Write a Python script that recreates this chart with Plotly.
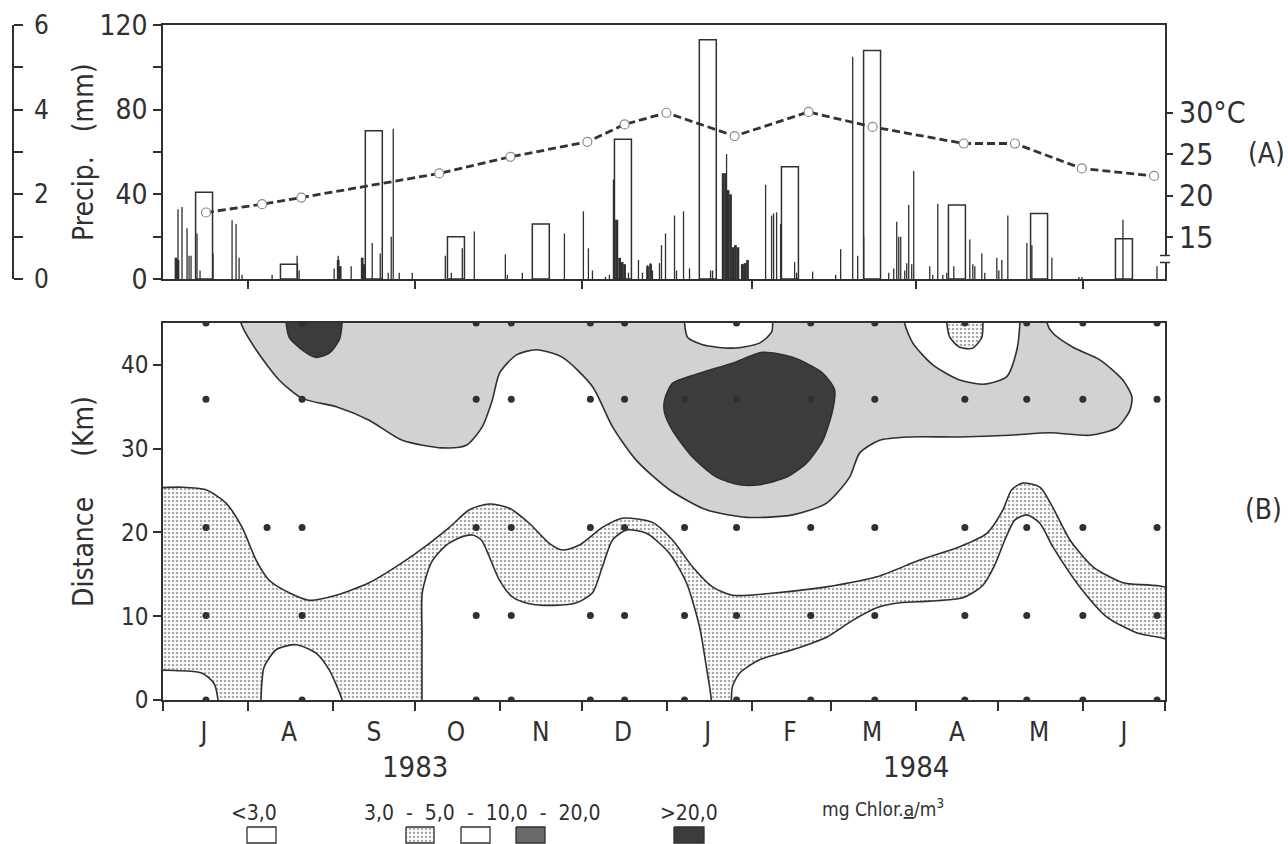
import plotly.graph_objects as go
import pandas as pd

W, H = 1288, 844
START = pd.Timestamp("1983-07-01")
DAY_MS = 86400000

# ---------------- (A) precipitation & temperature ----------------
month_mid = ["1983-07-16", "1983-08-16", "1983-09-16", "1983-10-16", "1983-11-16", "1983-12-16",
             "1984-01-16", "1984-02-15", "1984-03-16", "1984-04-16", "1984-05-16", "1984-06-16"]
month_letters = ["J", "A", "S", "O", "N", "D", "J", "F", "M", "A", "M", "J"]
monthly_precip_mm = [41, 7, 70, 20, 26, 66, 113, 53, 108, 35, 31, 19]

# daily rain events: day number since 1 July 1983, mm
rain_day = [4.75, 5.48, 6.95, 8.78, 9.51, 10.24, 12.43, 13.53, 18.28, 25.23, 26.69, 27.79, 28.88,
            39.85, 48.99, 49.73, 62.52,
            63.99, 64.72, 68.74, 72.76, 73.49, 76.42, 79.34, 82.27, 83.36, 84.10, 86.29, 91.04,
            103.11, 105.30, 109.32, 113.71,
            125.05, 125.78, 131.26, 146.62,
            153.56, 155.39, 156.86, 161.61, 163.07, 164.53, 170.02, 173.67, 175.14, 176.97, 178.06,
            178.79, 181.35, 182.08, 183.55,
            186.84, 187.57, 190.13, 192.32, 200.00, 200.73, 205.85, 211.33, 220.11,
            222.30, 223.03, 224.13, 225.59, 230.71, 231.44, 237.29,
            245.70, 247.53, 251.92, 253.75, 255.94, 265.08, 266.91, 268.01, 268.74, 269.47, 270.93,
            271.66, 272.39, 273.49, 274.22,
            280.07, 281.17, 283.00, 284.83, 286.29, 288.85, 294.70, 295.80, 296.53, 299.09, 300.18, 304.57,
            305.30, 306.40, 308.59, 315.54, 317.37, 324.68, 334.55, 335.65,
            350.64, 363.07]
rain_mm = [10, 33, 34, 24, 11, 11, 21.5, 4, 12, 27.7, 26, 10, 2,
           2, 11, 4, 5,
           11, 6, 6, 10, 6, 17, 12, 3, 20, 71, 3, 3,
           11, 3, 14.5, 22.5,
           11.7, 2, 3, 21.5,
           32, 14.5, 4, 1, 2, 47, 3, 9, 3, 6.5, 7.5,
           4, 7.5, 16, 21.5,
           30, 4, 32, 5, 4, 4, 59, 7, 44.5,
           30, 31, 31.5, 26, 8, 3, 3.5,
           2, 14, 105, 11, 20, 3, 5, 27, 20, 20, 4,
           7.5, 35, 7, 51,
           6, 2, 35.6, 2, 3, 6, 18.7, 7, 6, 12, 3, 10,
           4, 9, 30, 17, 16, 10, 1, 1,
           28, 6]

# heavy (dense) rain spells drawn solid
heavy_day = [4.75, 5.48, 63.99, 64.72, 72.76, 73.49,
             164.9, 165.8, 166.8, 167.7, 168.6, 177.0, 178.1,
             204.6, 205.5, 206.4, 207.3, 208.2, 209.1, 210.0, 211.7, 212.6, 213.5]
heavy_mm = [10, 9, 9, 6, 10, 7,
            28, 28, 10, 8, 7, 6, 7,
            50, 50, 42, 40, 15, 16, 15, 7, 7.5, 9]

temp_day = [15.7, 36.2, 50.5, 100.9, 126.9, 155.0, 168.6, 183.9, 208.8, 235.8, 259.2, 292.5, 311.2, 335.6, 362.0]
temp_c = [18.0, 19.0, 19.8, 22.7, 24.7, 26.5, 28.6, 30.0, 27.2, 30.1, 28.3, 26.3, 26.3, 23.3, 22.4]

# ---------------- (B) chlorophyll a along the estuary ----------------
station_names = ["E1", "E2", "E3", "E4", "E5"]
station_km = [0, 10.1, 20.6, 35.9, 45]
sampling_days = {
    "E1": [15.7, 50.8, 114.4, 127.2, 156.1, 168.6, 190.5, 209.5, 236.6, 260.0, 292.9, 315.5, 336.0, 363.1],
    "E2": [15.7, 50.8, 114.4, 127.2, 156.1, 168.6, 190.5, 209.5, 236.6, 260.0, 292.9, 315.5, 336.0, 363.1],
    "E3": [15.7, 38.0, 50.8, 114.4, 127.2, 156.1, 168.6, 190.5, 209.5, 236.6, 260.0, 292.9, 315.5, 336.0, 363.1],
    "E4": [15.7, 50.8, 114.4, 127.2, 156.1, 168.6, 190.5, 209.5, 236.6, 260.0, 292.9, 315.5, 336.0, 363.1],
    "E5": [15.7, 50.8, 114.4, 127.2, 156.1, 168.6, 209.5, 236.6, 260.0, 292.9, 315.5, 336.0, 363.1],
}

# isoline outlines (day since 1 July 1983, km)
band_3_5_top = [(-3, 25.3), (6.9, 25.4), (15.7, 25.1), (23.0, 23.5), (28.9, 20.6), (34.0, 16.7), (38.8, 14.3),
                (46.1, 12.8), (53.4, 11.9), (63.3, 12.5), (75.3, 14.0), (87.4, 16.4), (97.3, 18.7), (104.6, 20.6),
                (111.9, 22.7), (119.2, 23.4), (126.5, 22.9), (133.8, 21.1), (141.1, 18.7), (145.9, 17.9),
                (152.1, 18.5), (160.5, 20.6), (167.8, 21.7), (178.8, 21.2), (186.1, 19.1), (193.4, 15.9),
                (200.7, 13.5), (208.0, 12.5), (224.1, 12.8), (242.4, 13.5), (260.7, 14.7), (276.4, 16.7),
                (291.0, 18.3), (300.9, 19.9), (306.8, 22.7), (310.0, 25.1), (314.1, 25.9), (320.3, 25.4),
                (325.0, 23.0), (331.3, 19.1), (339.7, 15.9), (350.6, 14.0), (369, 13.0), (369, -3), (-3, -3)]
low_corner = [(-3, -3), (-3, 3.3), (5.9, 3.5), (14.3, 3.2), (18.6, 2.0), (20.1, 0), (20.3, -3)]
low_aug = [(35.7, -3), (35.8, 0), (36.2, 2.4), (36.9, 3.9), (41.3, 6.0), (48.6, 6.6), (55.9, 5.6),
           (60.7, 3.6), (63.3, 1.8), (65.4, 0), (66.0, -3)]
low_oct_jan = [(94.6, -3), (94.6, 0), (94.6, 8), (94.7, 12.8), (98.0, 16.4), (103.5, 18.5), (109.3, 19.5),
               (113.0, 19.7), (116.3, 19.1), (119.2, 17.1), (122.9, 14.3), (127.6, 12.3), (133.8, 11.5),
               (143.0, 11.3), (151.0, 11.6), (156.9, 12.8), (160.5, 15.9), (164.2, 19.1), (169.3, 20.3),
               (176.6, 19.9), (185.0, 17.5), (191.2, 14.0), (196.0, 8.7), (198.5, 3.9), (200.3, 0), (200.5, -3)]
low_jan_jun = [(207.5, -3), (207.6, 0), (208.0, 1.6), (210.6, 3.2), (217.9, 4.8), (230.0, 6.0), (242.4, 7.5),
               (251.9, 9.5), (260.7, 11.0), (269.1, 11.6), (280.1, 11.8), (292.1, 12.2), (299.5, 13.7),
               (303.8, 16.1), (307.5, 19.1), (311.2, 21.5), (315.5, 22.1), (320.3, 21.1), (325.0, 18.3),
               (334.9, 13.5), (344.8, 9.9), (355.8, 8.0), (369, 6.8), (369, -3)]
zone_10_20 = [(28.5, 48), (28.5, 45), (34.0, 41.8), (42.4, 38.2), (50.8, 36.0), (63.3, 35.0), (75.3, 33.4),
              (87.4, 31.0), (102.0, 30.1), (110.8, 30.4), (116.6, 32.6), (120.3, 35.8), (122.9, 39.0),
              (129.1, 41.2), (136.4, 41.8), (145.9, 40.9), (156.9, 37.4), (164.2, 32.6), (172.9, 28.6),
              (185.0, 25.1), (198.5, 22.7), (213.2, 21.8), (230.0, 22.1), (242.4, 23.5), (250.8, 26.6),
              (254.5, 29.5), (261.8, 31.0), (272.8, 31.4), (291.0, 31.4), (309.3, 31.6), (324.0, 31.9),
              (338.6, 31.6), (348.4, 32.5), (353.2, 34.6), (353.9, 36.2), (350.6, 38.2), (342.2, 40.6),
              (332.4, 42.1), (325.0, 43.8), (322.9, 45), (322.9, 48)]
gap_jan = [(190.5, 48), (190.5, 45), (191.6, 43.3), (197.1, 42.4), (208.0, 42.0), (217.9, 42.6),
           (222.3, 43.9), (222.7, 45), (222.7, 48)]
gap_apr = [(270.9, 48), (270.9, 45), (273.9, 42.6), (281.2, 40.0), (291.0, 38.2), (300.2, 37.7),
           (308.2, 38.6), (311.9, 41.8), (313.0, 45), (313.0, 48)]
patch_apr = [(286.3, 48), (286.3, 45), (287.4, 43.3), (291.0, 42.1), (295.8, 42.0), (299.1, 43.3),
             (299.5, 45), (299.5, 48)]
peak_aug = [(45.0, 48), (45.0, 45), (46.1, 43.3), (50.8, 41.8), (55.9, 40.9), (60.7, 41.4), (64.4, 43.0),
            (65.4, 45), (65.4, 48)]
peak_jan = [(183.2, 35.8), (186.1, 37.8), (196.0, 39.0), (208.0, 40.2), (219.0, 41.5), (230.0, 40.9),
            (241.0, 39.0), (245.3, 37.0), (244.6, 34.6), (241.0, 31.0), (235.1, 28.3), (227.8, 26.6),
            (217.9, 25.7), (210.6, 25.7), (202.2, 26.6), (193.4, 29.0), (186.1, 32.2), (183.2, 34.3),
            (183.2, 35.8)]

outer_scale = [0, 6]
legend_labels = ["<3,0", "3,0  -  5,0  -  10,0  -  20,0", ">20,0"]

# ---------------- styling ----------------
FONT = "Liberation Sans Narrow, DejaVu Sans Condensed, Liberation Sans, sans-serif"
INK = "#303030"
GRAY = "#d2d2d2"
DARK = "#3c3c3c"
DOTS = dict(shape=".", size=4, solidity=0.35, fgcolor="#555555", bgcolor="white")


def T(days):
    return [START + pd.Timedelta(days=float(d)) for d in days]


fig = go.Figure()

# monthly totals (open boxes)
fig.add_trace(go.Bar(x=month_mid, y=monthly_precip_mm, width=6.2 * DAY_MS, xaxis="x", yaxis="y",
                     marker=dict(color="rgba(0,0,0,0)", line=dict(color=INK, width=1.5)), hoverinfo="skip"))
# heavy spells (solid)
fig.add_trace(go.Bar(x=T(heavy_day), y=heavy_mm, width=1.0 * DAY_MS, xaxis="x", yaxis="y",
                     marker=dict(color=INK, line=dict(width=0)), hoverinfo="skip"))
# daily rain (thin lines)
lx, ly = [], []
for t, v in zip(T(rain_day), rain_mm):
    lx += [t, t, None]
    ly += [0, v, None]
fig.add_trace(go.Scatter(x=lx, y=ly, mode="lines", xaxis="x", yaxis="y",
                         line=dict(color=INK, width=1.3), hoverinfo="skip"))
# temperature
fig.add_trace(go.Scatter(x=T(temp_day), y=temp_c, mode="lines+markers", xaxis="x", yaxis="y2",
                         line=dict(color="#333333", width=2.8, dash="8px,4px"),
                         marker=dict(symbol="circle", size=9, color="white", line=dict(color="#8a8a8a", width=1.2)),
                         hoverinfo="skip"))
# invisible carrier so that the outer left scale is drawn
fig.add_trace(go.Scatter(x=T([0, 0]), y=outer_scale, mode="markers", xaxis="x", yaxis="y3",
                         marker=dict(opacity=0), hoverinfo="skip"))


def zone(pts, fillcolor, pattern=None):
    d = [p[0] for p in pts]
    k = [p[1] for p in pts]
    kw = dict(x=T(d), y=k, mode="lines", xaxis="x2", yaxis="y4", fill="toself", fillcolor=fillcolor,
              line=dict(color=INK, width=1.6, shape="spline", smoothing=0.7), hoverinfo="skip")
    if pattern is not None:
        kw["fillpattern"] = pattern
    fig.add_trace(go.Scatter(**kw))


zone(band_3_5_top, "white", DOTS)
for pts in (low_corner, low_aug, low_oct_jan, low_jan_jun):
    zone(pts, "white")
zone(zone_10_20, GRAY)
zone(gap_jan, "white")
zone(gap_apr, "white")
zone(patch_apr, "white", DOTS)
zone(peak_aug, DARK)
zone(peak_jan, DARK)

for name, km in zip(station_names, station_km):
    dd = sampling_days[name]
    fig.add_trace(go.Scatter(x=T(dd), y=[km] * len(dd), mode="markers", xaxis="x2", yaxis="y4",
                             marker=dict(size=7, color=INK), cliponaxis=True, hoverinfo="skip"))

# legend swatches (pixel frame on an invisible helper axis)
sw = [(247, 276, "white", None), (406, 434, "white", DOTS), (461, 490, "white", None),
      (516, 545, "#6a6a6a", None), (674, 704, DARK, None)]
for x0, x1, fc, pat in sw:
    kw = dict(x=[x0, x1, x1, x0, x0], y=[827, 827, 843, 843, 827], mode="lines", fill="toself",
              fillcolor=fc, line=dict(color=INK, width=1.3), xaxis="x3", yaxis="y6", hoverinfo="skip")
    if pat is not None:
        kw["fillpattern"] = pat
    fig.add_trace(go.Scatter(**kw))

X0, X1 = 163 / W, 1165 / W
top_dom = [1 - 279 / H, 1 - 25 / H]
bot_dom = [1 - 700 / H, 1 - 323 / H]
xr = ["1983-07-01", "1984-07-01"]


def tf(size):
    return dict(family=FONT, size=size, color=INK)


base_ax = dict(showgrid=False, zeroline=False, automargin=False, linecolor=INK, linewidth=1.5,
               tickcolor=INK, tickwidth=1.5)
minor_months = dict(ticks="outside", ticklen=8, tickwidth=1.5, tickcolor=INK, dtick="M1",
                    tick0="1983-07-01", showgrid=False)

fig.update_layout(
    width=W, height=H, margin=dict(l=0, r=0, t=0, b=0),
    paper_bgcolor="white", plot_bgcolor="rgba(0,0,0,0)", showlegend=False, barmode="overlay",
    font=tf(22),
    xaxis=dict(base_ax, domain=[X0, X1], anchor="y", type="date", range=xr, showline=True, mirror=True,
               showticklabels=False, ticks="", minor=minor_months),
    yaxis=dict(base_ax, domain=top_dom, anchor="x", range=[0, 120], tickvals=[0, 40, 80, 120],
               ticks="outside", ticklen=8, showline=True, mirror=True, tickfont=tf(28),
               minor=dict(ticks="outside", ticklen=8, tickwidth=1.5, tickcolor=INK, dtick=20, showgrid=False)),
    yaxis2=dict(base_ax, overlaying="y", anchor="x", side="right", range=[10, 40.56],
                tickvals=[15, 20, 25, 30], ticktext=["15", "20", "25", "30°C"], ticks="outside", ticklen=7,
                showline=False, tickfont=tf(30)),
    yaxis3=dict(base_ax, overlaying="y", anchor="free", position=13 / W, side="right", range=outer_scale,
                tickvals=[0, 2, 4, 6], ticks="outside", ticklen=9, showline=True, tickfont=tf(26),
                ticklabelstandoff=6,
                minor=dict(ticks="outside", ticklen=9, tickwidth=1.5, tickcolor=INK, dtick=1, showgrid=False)),
    xaxis2=dict(base_ax, domain=[X0, X1], anchor="y4", type="date", range=xr, showline=True, mirror=True,
                tickmode="array", tickvals=month_mid, ticktext=month_letters, ticks="outside", ticklen=8,
                tickcolor="rgba(0,0,0,0)", tickfont=tf(26), minor=dict(minor_months, ticklen=9)),
    yaxis4=dict(base_ax, domain=bot_dom, anchor="x2", range=[0, 45], tickvals=[0, 10, 20, 30, 40],
                ticks="outside", ticklen=8, showline=True, mirror=True, tickfont=tf(24)),
    yaxis5=dict(base_ax, overlaying="y4", anchor="x2", side="right", range=[0, 45], tickvals=station_km,
                ticktext=station_names, ticks="outside", ticklen=10, showline=False, tickfont=tf(28)),
    xaxis3=dict(domain=[0, 1], anchor="y6", range=[0, W], visible=False, fixedrange=True),
    yaxis6=dict(domain=[0, 0.025], anchor="x3", range=[H, H - 0.025 * H], visible=False, fixedrange=True),
)

ann = [
    dict(x=84 / W, y=1 - 152 / H, text="Precip.   (mm)", textangle=-90, font=tf(28)),
    dict(x=83 / W, y=1 - 502 / H, text="Distance     (Km)", textangle=-90, font=tf(28)),
    dict(x=1266 / W, y=1 - 153 / H, text="(A)", font=tf(28)),
    dict(x=1263 / W, y=1 - 509 / H, text="(B)", font=tf(28)),
    dict(x="1983-10-01", xref="x2", y=1 - 767 / H, text="1983", font=tf(29)),
    dict(x="1984-04-01", xref="x2", y=1 - 767 / H, text="1984", font=tf(29)),
    dict(x=254 / W, y=1 - 813 / H, text=legend_labels[0], font=tf(21)),
    dict(x=482 / W, y=1 - 813 / H, text=legend_labels[1], font=tf(21)),
    dict(x=689 / W, y=1 - 813 / H, text=legend_labels[2], font=tf(21)),
    dict(x=883 / W, y=1 - 808 / H, text="mg Chlor.<u>a</u>/m<sup>3</sup>", font=tf(19)),
]
for a in ann:
    a.setdefault("xref", "paper")
    a.setdefault("yref", "paper")
    a["showarrow"] = False
    a["xanchor"] = "center"
    a["yanchor"] = "middle"
fig.update_layout(annotations=ann)

# axis break on the temperature scale
fig.add_shape(type="rect", xref="paper", yref="paper", x0=1161 / W, x1=1169 / W, y0=1 - 262 / H,
              y1=1 - 256 / H, fillcolor="white", line=dict(width=0), layer="above")
for py in (255.5, 262.5):
    fig.add_shape(type="line", xref="paper", yref="paper", x0=1160 / W, x1=1170 / W, y0=1 - py / H,
                  y1=1 - py / H, line=dict(color=INK, width=1.5), layer="above")

fig.write_html("out.html")
